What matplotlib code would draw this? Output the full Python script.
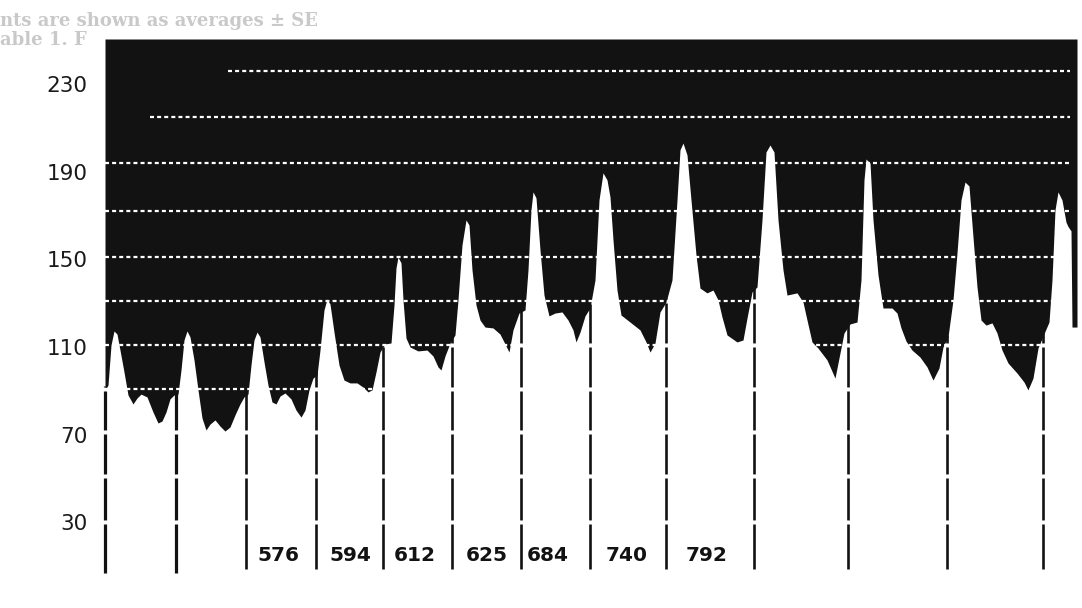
import matplotlib
matplotlib.use('Agg')
import matplotlib.pyplot as plt
import numpy as np

# recorder trace: position along the chart and recorded level
trace_t = [0, 3, 6, 9, 12, 15, 19, 23, 28, 32, 36, 42, 48, 53, 57, 61, 65, 69, 73, 76,
           79, 82, 85, 89, 93, 97, 101, 105, 110, 115, 120, 125, 130, 135, 139, 143, 146, 149, 152, 155,
           159, 163, 167, 171, 175, 180, 186, 191, 196, 200, 204, 208, 212, 215, 219, 222, 225, 229, 234, 239,
           245, 252, 258, 263, 267, 271, 275, 280, 286, 289, 291, 293, 296, 298, 301, 305, 313, 322, 328, 333,
           336, 340, 345, 350, 353, 357, 361, 364, 367, 371, 375, 380, 388, 395, 400, 404, 408, 414, 420, 423,
           426, 428, 431, 435, 439, 444, 450, 457, 463, 468, 471, 475, 480, 485, 490, 494, 498, 502, 505, 508,
           512, 516, 525, 535, 541, 545, 550, 555, 561, 567, 572, 575, 578, 582, 586, 591, 595, 602, 608, 613,
           617, 622, 632, 638, 642, 647, 652, 657, 661, 665, 669, 673, 678, 682, 692, 698, 702, 707, 713, 722,
           730, 735, 739, 745, 752, 756, 759, 761, 765, 768, 773, 778, 787, 792, 796, 801, 807, 815, 822, 828,
           834, 838, 843, 848, 852, 856, 860, 864, 868, 872, 876, 881, 887, 892, 897, 903, 912, 919, 923, 928,
           933, 938, 944, 947, 950, 953, 957, 961, 963, 966, 967, 972]
trace_v = [90.4, 92.6, 110.9, 117.3, 115.9, 108.6, 98.6, 88.1, 84.0, 86.7, 88.5, 87.2, 80.3, 75.3, 76.2, 80.3, 86.3, 88.1, 88.5, 99.5,
           113.2, 117.3, 114.6, 104.1, 90.4, 77.6, 72.1, 74.8, 76.7, 73.9, 71.6, 73.5, 79.0, 84.0, 87.2, 88.5, 101.8, 113.2, 116.8, 114.6,
           103.2, 92.6, 84.9, 84.0, 87.6, 89.0, 86.3, 81.2, 78.0, 81.2, 90.4, 95.8, 97.2, 108.6, 126.9, 131.9, 129.6, 116.8, 101.8, 94.9,
           93.6, 93.6, 91.7, 89.5, 90.4, 98.6, 107.7, 111.4, 111.8, 129.2, 146.1, 151.1, 148.4, 131.5, 114.1, 110.0, 108.2, 108.6, 105.9, 100.9,
           99.5, 105.9, 111.8, 115.5, 131.5, 156.6, 168.0, 165.7, 145.2, 129.2, 122.3, 119.1, 118.7, 115.9, 111.4, 107.7, 117.8, 125.5, 126.9, 145.2,
           172.6, 180.8, 178.1, 154.3, 133.7, 124.2, 125.5, 126.0, 122.3, 117.8, 112.3, 116.8, 124.2, 127.8, 140.6, 177.1, 189.5, 186.3, 178.5, 158.9,
           136.0, 124.6, 121.4, 117.8, 112.3, 107.7, 111.8, 126.0, 130.5, 140.6, 177.1, 200.0, 203.1, 197.7, 177.1, 152.0, 136.9, 134.7, 136.0, 131.5,
           123.7, 115.5, 112.3, 113.2, 123.2, 135.1, 137.4, 168.0, 199.0, 202.2, 199.0, 168.0, 145.2, 133.7, 134.7, 130.5, 122.3, 112.3, 109.5, 104.1,
           95.8, 107.3, 116.4, 120.5, 121.4, 140.6, 186.3, 195.8, 194.0, 168.0, 142.9, 127.8, 127.8, 125.5, 118.7, 112.7, 108.6, 105.4, 100.9, 94.9,
           100.4, 110.0, 114.6, 131.5, 152.9, 177.1, 185.3, 183.5, 160.2, 137.4, 122.3, 120.0, 121.0, 116.4, 108.6, 102.7, 98.1, 94.0, 90.4, 95.8,
           109.5, 115.0, 121.4, 140.6, 172.6, 180.8, 177.1, 167.0, 165.0, 163.0, 119.1, 119.1]

# event markers (vertical lines) and their lower ends
marker_t = [0, 71, 141, 211, 278, 347, 416, 485, 561, 649, 743, 842, 938]
marker_bottom = [6.8, 6.8, 8.6, 8.6, 8.6, 8.6, 8.6, 8.6, 8.6, 8.6, 8.6, 8.6, 8.6]

# horizontal reference levels and where each one starts
grid_levels = [236, 215, 194, 172, 151, 131, 111, 91, 71, 51, 30]
grid_start = [123, 45, 0, 0, 0, 0, 0, 0, 0, 0, 0]

# numbers written between the markers
event_labels = ['576', '594', '612', '625', '684', '740', '792']
event_label_t = [173, 245, 310, 382, 443, 522, 602]

ytick_values = [30, 70, 110, 150, 190, 230]

y_top = 250.6
y_bottom = 5.0
ink = '#121212'

fig = plt.figure(figsize=(10.82, 6.08), dpi=100)
fig.patch.set_facecolor('white')
ax = fig.add_axes([103 / 1082, 31 / 608, 974 / 1082, 538 / 608])
ax.set_xlim(-2, 972)
ax.set_ylim(y_bottom, y_top)

# black area above the trace
ax.fill_between(trace_t, trace_v, y_top, color=ink, lw=0, zorder=2)

# event markers, broken at each reference level, running up to the trace
gap = 0.9
for x, b in zip(marker_t, marker_bottom):
    top = np.interp(x, trace_t, trace_v) + 2
    cuts = sorted(lv for lv in grid_levels if b < lv < top)
    lows = [b] + [lv + gap for lv in cuts]
    highs = [lv - gap for lv in cuts] + [top]
    lw = 2.3 if x < 100 else 1.9
    ax.vlines([x] * len(lows), lows, highs, color=ink, lw=lw, zorder=1)

# white dotted reference levels across the black area
for lv, x0 in zip(grid_levels, grid_start):
    ax.plot([x0, 965], [lv, lv], color='white', lw=1.6,
            dashes=(1.8, 1.4), solid_capstyle='butt', dash_capstyle='butt', zorder=3)

for lab, x in zip(event_labels, event_label_t):
    weight = 'bold' if lab in ('576', '594') else 'semibold'
    ax.text(x, 15, lab, ha='center', va='center', fontsize=14.5,
            fontweight=weight, color=ink, zorder=4)

ax.set_yticks(ytick_values)
ax.set_yticklabels([str(v) for v in ytick_values], fontsize=15.5, color='#1a1a1a')
ax.tick_params(axis='y', length=0, pad=11)
ax.set_xticks([])
for s in ax.spines.values():
    s.set_visible(False)

# faint text from the page above
fig.text(0.0, 0.965, 'nts are shown as averages \u00b1 SE', fontsize=13, family='serif',
         fontweight='bold', color='#c9c9c9', ha='left', va='center')
fig.text(0.0, 0.935, 'able 1. F', fontsize=13, family='serif',
         fontweight='bold', color='#c9c9c9', ha='left', va='center')

fig.savefig('out.png', dpi=100, facecolor='white')
